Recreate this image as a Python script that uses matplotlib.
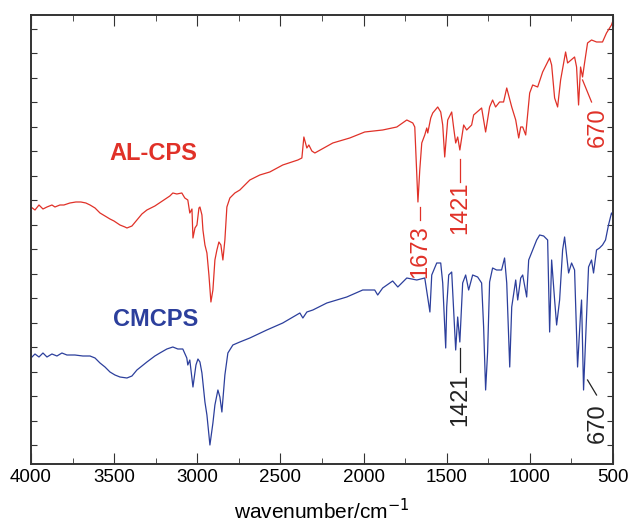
import matplotlib.pyplot as plt
import numpy as np

plt.rcParams["font.family"] = ["Liberation Sans", "DejaVu Sans"]

# AL-CPS spectrum (wavenumber, transmittance a.u.)
wn_al = [4000, 3976, 3952, 3928, 3904, 3874, 3856, 3826, 3802, 3766, 3730, 3700,
         3670, 3645, 3615, 3585, 3555, 3525, 3501, 3465, 3435, 3423, 3393, 3363,
         3333, 3303, 3255, 3201, 3165, 3147, 3123, 3093, 3075, 3057, 3045, 3032,
         3026, 3014, 3002, 2990, 2984, 2972, 2966, 2954, 2942, 2930, 2918, 2906,
         2894, 2882, 2870, 2858, 2846, 2834, 2822, 2804, 2774, 2744, 2684, 2624,
         2564, 2486, 2395, 2371, 2359, 2341, 2329, 2311, 2293, 2185, 2083, 1993,
         1885, 1800, 1740, 1704, 1692, 1673, 1662, 1650, 1632, 1620, 1614, 1596,
         1584, 1554, 1536, 1524, 1512, 1494, 1470, 1458, 1446, 1434, 1421, 1398,
         1380, 1350, 1338, 1290, 1266, 1242, 1224, 1206, 1182, 1158, 1139, 1109,
         1085, 1067, 1055, 1043, 1025, 1001, 983, 953, 923, 881, 869, 851, 833,
         815, 785, 773, 731, 719, 707, 695, 683, 671, 653, 629, 599, 563, 539,
         509, 503]
t_al = [257, 254, 259, 255, 257, 259, 257, 259, 259, 261, 262, 262,
        261, 259, 256, 251, 248, 245, 243, 239, 237, 236, 238, 244,
        250, 254, 258, 264, 268, 271, 270, 271, 266, 264, 251, 255,
        226, 236, 239, 256, 257, 249, 234, 219, 211, 189, 162, 174,
        204, 214, 222, 219, 204, 224, 257, 266, 271, 274, 284, 289,
        292, 299, 304, 306, 327, 316, 319, 313, 311, 321, 326, 332,
        334, 337, 344, 341, 337, 262, 294, 321, 329, 336, 331, 346,
        351, 357, 352, 339, 307, 344, 352, 336, 321, 327, 314, 339,
        334, 339, 349, 356, 332, 357, 364, 357, 362, 362, 376, 357,
        344, 326, 337, 337, 329, 371, 379, 377, 392, 406, 399, 366, 357,
        384, 412, 401, 407, 397, 359, 397, 387, 401, 421, 424, 422, 422, 431,
        439, 442]

# CMCPS spectrum
wn_cm = [4000, 3976, 3952, 3928, 3904, 3874, 3844, 3814, 3784, 3736, 3688, 3645,
         3615, 3585, 3555, 3525, 3495, 3465, 3423, 3393, 3363, 3333, 3303, 3255,
         3225, 3183, 3147, 3117, 3087, 3063, 3057, 3045, 3026, 3008, 2996, 2984,
         2972, 2954, 2942, 2924, 2906, 2894, 2876, 2864, 2852, 2834, 2816, 2786,
         2744, 2684, 2582, 2486, 2383, 2365, 2341, 2305, 2221, 2101, 2005, 1933,
         1915, 1885, 1825, 1794, 1740, 1680, 1632, 1601, 1590, 1560, 1536, 1524,
         1506, 1500, 1488, 1470, 1458, 1446, 1434, 1421, 1404, 1386, 1368, 1344,
         1314, 1290, 1278, 1266, 1254, 1242, 1224, 1200, 1170, 1152, 1139, 1121,
         1109, 1085, 1073, 1055, 1043, 1019, 1007, 983, 959, 941, 917, 893, 881,
         869, 851, 839, 821, 803, 791, 767, 749, 731, 713, 695, 689, 677, 659,
         647, 629, 617, 599, 581, 563, 545, 527, 509, 503]
t_cm = [106, 110, 107, 111, 107, 110, 108, 111, 109, 109, 108, 108,
        106, 101, 97, 92, 89, 87, 86, 88, 94, 98, 102, 108,
        111, 115, 117, 115, 115, 106, 99, 104, 77, 99, 105, 102,
        91, 62, 49, 19, 41, 59, 74, 67, 52, 89, 111, 119,
        122, 126, 134, 141, 151, 146, 152, 154, 161, 167, 174, 174,
        169, 176, 183, 177, 186, 184, 186, 152, 189, 201, 201, 181,
        116, 157, 189, 192, 154, 114, 147, 122, 181, 189, 174, 189,
        187, 181, 137, 74, 112, 182, 196, 194, 194, 206, 181, 97,
        157, 184, 164, 186, 189, 167, 204, 214, 224, 229, 228, 224, 132,
        204, 164, 139, 164, 214, 227, 191, 201, 194, 97, 151, 164, 74, 147,
        197, 204, 191, 214, 216, 219, 224, 239, 251, 249]

fig = plt.figure(figsize=(6.3, 5.24), dpi=100)
ax = fig.add_axes([0.0492, 0.1145, 0.9238, 0.8569])

red = "#e03128"
blue = "#2c3f9c"
ax.plot(wn_al, t_al, color=red, lw=0.9)
ax.plot(wn_cm, t_cm, color=blue, lw=0.9)

ax.set_xlim(4000, 500)
ax.set_ylim(0, 449)
ax.set_xticks(np.arange(4000, 499, -500))
ax.set_xticks(np.arange(4000, 499, -250), minor=True)
ax.set_yticks(19 + 24.47 * np.arange(18))
ax.tick_params(which="both", direction="in", top=True, right=True,
               labelleft=False, labelsize=13.5, color="#333333")
ax.tick_params(which="major", axis="x", length=8)
ax.tick_params(which="minor", axis="x", length=4)
ax.tick_params(axis="y", length=4)
for s in ax.spines.values():
    s.set_linewidth(1.4)
    s.set_color("#333333")

ax.set_xlabel("wavenumber/cm$^{-1}$", fontsize=15, labelpad=9)

# sample names
ax.text(3262, 310, "AL-CPS", color=red, fontsize=17, fontweight="bold",
        ha="center", va="center")
ax.text(3250, 144, "CMCPS", color=blue, fontsize=17, fontweight="bold",
        ha="center", va="center")

# peak annotations
ax.plot([1662, 1662], [244, 257], color=red, lw=0.9)
ax.text(1662, 212, "1673", color=red, fontsize=17, rotation=90,
        ha="center", va="center")
ax.plot([1421, 1421], [282, 305], color=red, lw=0.9)
ax.text(1416, 256, "1421", color=red, fontsize=17, rotation=90,
        ha="center", va="center")
ax.plot([683, 629], [384, 362], color=red, lw=0.9)
ax.text(593, 337, "670", color=red, fontsize=17, rotation=90,
        ha="center", va="center")
ax.plot([1419, 1419], [92, 116], color="#222222", lw=0.9)
ax.text(1416, 64, "1421", color="#222222", fontsize=17, rotation=90,
        ha="center", va="center")
ax.plot([653, 599], [84, 69], color="#222222", lw=0.9)
ax.text(593, 41, "670", color="#222222", fontsize=17, rotation=90,
        ha="center", va="center")

plt.savefig("out.png", dpi=100)
